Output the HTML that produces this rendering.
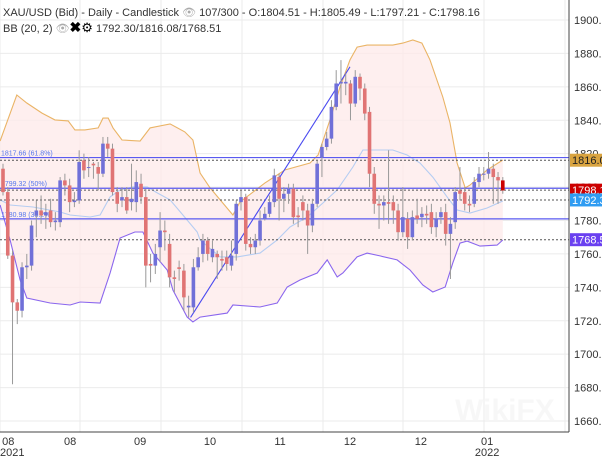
<!DOCTYPE html>
<html><head><meta charset="utf-8"><style>
html,body{margin:0;padding:0;background:#fff;width:602px;height:457px;overflow:hidden}
svg{display:block;font-family:"Liberation Sans",sans-serif}
</style></head><body>
<svg id="chart" width="602" height="457" viewBox="0 0 602 457" xmlns="http://www.w3.org/2000/svg">
<g id="grid"></g>
<g id="bands"></g>
<g id="levels"></g>
<g id="candles"></g>
<g id="axis"></g>
<g id="xaxis"></g>
<text x="3" y="16" font-size="11" fill="#333">XAU/USD (Bid) - Daily - Candlestick <tspan fill="#aaa">👁</tspan> 107/300 - O:1804.51 - H:1805.49 - L:1797.21 - C:1798.16</text>
<text x="3" y="32" font-size="11" fill="#333">BB (20, 2) <tspan fill="#aaa">👁</tspan><tspan font-weight="bold" font-size="14" fill="#000">✖</tspan><tspan font-size="13" fill="#000">⚙</tspan> 1792.30/1816.08/1768.51</text>
<text x="455" y="420" font-size="30" font-weight="bold" fill="#000" fill-opacity="0.03">WikiFX</text>
</svg>
<script>
const opens=[1811,1797,1759,1731,1726,1752,1753,1783,1786,1783,1786,1779,1779,1804,1801,1791,1792,1816,1812,1814,1812,1808,1826,1823,1797,1792,1794,1791,1791,1802,1794,1754,1753,1764,1774,1766,1746,1752,1750,1728,1728,1752,1760,1768,1758,1760,1757,1758,1753,1760,1791,1794,1766,1764,1768,1781,1784,1791,1806,1793,1796,1799,1783,1791,1786,1777,1790,1818,1824,1829,1848,1862,1862,1862,1850,1866,1859,1845,1808,1790,1789,1791,1791,1786,1773,1781,1770,1783,1782,1784,1785,1776,1782,1785,1772,1779,1798,1797,1790,1790,1803,1808,1808,1811,1806,1804];
const closes=[1797,1759,1731,1726,1752,1753,1777,1786,1783,1785,1779,1780,1804,1801,1791,1792,1815,1810,1812,1813,1808,1826,1823,1797,1790,1794,1786,1793,1803,1794,1753,1753,1760,1774,1773,1746,1745,1751,1734,1729,1752,1758,1768,1760,1763,1758,1756,1754,1759,1790,1794,1766,1764,1768,1780,1784,1791,1807,1793,1796,1799,1782,1782,1786,1777,1790,1814,1824,1829,1848,1862,1863,1863,1850,1866,1859,1844,1808,1790,1789,1791,1790,1786,1773,1782,1770,1782,1781,1784,1783,1776,1781,1785,1772,1778,1797,1796,1790,1789,1803,1808,1808,1811,1806,1804,1798];
const highs=[1814,1800,1762,1733,1755,1760,1780,1792,1795,1790,1793,1785,1806,1808,1805,1797,1822,1820,1818,1815,1815,1830,1830,1826,1800,1800,1800,1814,1810,1808,1799,1760,1766,1785,1780,1772,1750,1756,1754,1735,1757,1764,1772,1770,1768,1762,1762,1762,1768,1792,1798,1796,1770,1772,1786,1788,1795,1811,1808,1800,1802,1802,1788,1795,1790,1793,1816,1826,1833,1852,1870,1876,1868,1864,1870,1868,1862,1848,1812,1795,1795,1822,1795,1790,1800,1785,1786,1793,1788,1789,1790,1785,1788,1790,1782,1800,1812,1800,1795,1806,1812,1812,1821,1814,1809,1806];
const lows=[1795,1757,1682,1718,1722,1745,1750,1770,1778,1775,1776,1774,1776,1795,1785,1788,1790,1805,1806,1805,1798,1806,1818,1795,1785,1788,1784,1786,1785,1790,1740,1743,1748,1755,1762,1740,1737,1744,1726,1722,1725,1750,1755,1756,1755,1745,1750,1750,1750,1756,1786,1762,1760,1760,1765,1780,1782,1788,1780,1785,1790,1778,1776,1780,1760,1773,1788,1806,1822,1826,1846,1850,1855,1840,1848,1852,1840,1800,1784,1775,1780,1778,1778,1768,1770,1763,1768,1778,1776,1778,1772,1770,1778,1765,1745,1775,1792,1786,1785,1788,1800,1804,1805,1790,1790,1796];
const upperIdx=[-0.6,2.9,5,8.2,10.9,13.7,15.1,17.2,20,21,22.1,23.1,25,28.8,30.9,35.1,38.2,39.9,41.4,43.5,48.3,49.8,55,59.2,64.5,66.2,68.7,70.8,72.9,74.4,76.5,81.9,84,86.1,88,89.7,92.4,93.9,95.4,97.1,98.1,101.7,105];
const upperVals=[1827.6,1855.1,1850.3,1844.3,1840.2,1839.6,1834.2,1834.2,1835.4,1841.3,1841.3,1835.4,1828.2,1827.6,1835.4,1837.8,1833,1828.2,1808.4,1799.5,1783.3,1791.1,1802.4,1810.2,1814.4,1819.2,1840.2,1859.9,1876.1,1883.8,1885,1885,1886.2,1888,1886.2,1876.1,1853.9,1838.4,1814.4,1799.5,1801.2,1810.2,1816.2];
const midIdx=[-0.6,1.5,6.3,12,14.1,18.3,20.4,22.5,24.6,27.3,30.3,32.4,35.1,37.8,40.8,41.4,45.6,49.2,54,57.6,60.3,63.9,67.2,70.2,73.5,75.6,79.2,81.9,84.9,87.6,90.3,93.3,95.4,98.1,101.7,105];
const midVals=[1792.3,1789.3,1788.1,1785.1,1783.3,1782.1,1783.3,1794.1,1798.3,1800.1,1800.1,1796.5,1792.3,1783.3,1773.1,1768.3,1758.2,1758.2,1760.5,1768.3,1776.1,1782.1,1790.5,1798.3,1812,1822.2,1822.2,1822.2,1819.2,1814.4,1806,1794.1,1786.3,1784.5,1787.5,1791.7];
const lowerIdx=[-0.6,1.5,3.6,5,9.9,14.1,16.2,20.4,22.5,24.6,27.7,29.4,31.5,34.5,35.7,38.7,39.9,41.4,47.1,48.3,54,57.6,59.7,62.4,66,68.1,70.2,71.4,74.4,76.5,79.2,82.8,85.5,88.2,90.3,92.9,94.5,96,97.5,100.2,103.8,105];
const lowerVals=[1789.3,1768.3,1744.4,1733.6,1730.6,1729.4,1731.2,1730.6,1748.6,1769.5,1773.1,1773.1,1760.5,1750.4,1738.4,1722.2,1719.3,1722.2,1724.6,1729.4,1728.2,1730.6,1740.2,1744.4,1748.6,1756.4,1746.2,1748.6,1758.2,1760.5,1758.8,1756.4,1750.4,1741.4,1737.2,1740.2,1754.6,1766.5,1767.7,1764.7,1765.3,1768.3];
const fibLevels=[1817.66,1799.32,1780.98];
const fibLabels=["1817.66 (61.8%)","1799.32 (50%)","1780.98 (38.2%)"];
const dashLevels=[1816.08,1798.16,1792.30,1768.51];
const tagLevels=[1816.08,1798.16,1792.30,1768.51];
const tagColors=["#d9a441","#cc0000","#2f9cf2","#6a40f0"];
const priceTicks=[1660,1680,1700,1720,1740,1760,1780,1800,1820,1840,1860,1880,1900];
const monthIdx=[1.1,14.1,28.8,43.5,58.2,72.9,87.8,101.7];
const monthLabels=["08","08","09","10","11","12","12","01"];
const yearLabels=["2021","","","","","","","2022"];
const trendFrom=[39.4,1722];
const trendTo=[72.9,1872];

const NS="http://www.w3.org/2000/svg";
const PW=569,PH=432;
const y=p=>20+(1900-p)*(401/240);
const x=i=>3+i*4.76;
function mk(t,a,parent){const e=document.createElementNS(NS,t);for(const k in a)e.setAttribute(k,a[k]);parent.appendChild(e);return e;}
const grid=document.getElementById('grid');
priceTicks.forEach(p=>{const l=mk('line',{x1:0,x2:PW,y1:y(p),y2:y(p),stroke:'#ebebeb','stroke-width':1},grid);

});
[0,80,161,242,323,403,484,565].forEach(gx=>{const l=mk('line',{x1:gx,x2:gx,y1:0,y2:PH,stroke:'#ebebeb','stroke-width':1},grid);

});

const bands=document.getElementById('bands');
const pts=(ix,vs)=>ix.map((i,k)=>x(i).toFixed(1)+','+y(vs[k]).toFixed(1));
const up=pts(upperIdx,upperVals), lo=pts(lowerIdx,lowerVals).reverse();
const fill=mk('polygon',{points:up.concat(lo).join(' '),fill:'#fdeaea','fill-opacity':0.75},bands);


const bu=mk('polyline',{points:up.join(' '),fill:'none',stroke:'#eab466','stroke-width':1.1},bands);


const bm=mk('polyline',{points:pts(midIdx,midVals).join(' '),fill:'none',stroke:'#b5cdf2','stroke-width':1.1},bands);


const bl=mk('polyline',{points:pts(lowerIdx,lowerVals).join(' '),fill:'none',stroke:'#8a66ee','stroke-width':1.1},bands);



const lv=document.getElementById('levels');
dashLevels.forEach(p=>{const l=mk('line',{x1:0,x2:PW,y1:y(p),y2:y(p),stroke:'#555','stroke-width':1,'stroke-dasharray':'2,2'},lv);

});
fibLevels.forEach((p,k)=>{const l=mk('line',{x1:0,x2:PW,y1:y(p),y2:y(p),stroke:'#5a5af0','stroke-width':1.2},lv);


const t=mk('text',{x:1,y:y(p)-2,'font-size':7,fill:'#5577ee'},lv);t.textContent=fibLabels[k];

});
const tr=mk('line',{x1:x(trendFrom[0]),y1:y(trendFrom[1]),x2:x(trendTo[0]),y2:y(trendTo[1]),stroke:'#4a4af0','stroke-width':1.1},lv);



const cg=document.getElementById('candles');
opens.forEach((o,i)=>{const c=closes[i],bull=c>=o;const col=bull?'#7070d8':'#e07474';const wc='#999';
const cx=x(i);
const w=mk('line',{x1:cx,x2:cx,y1:y(highs[i]),y2:y(lows[i]),stroke:wc,'stroke-width':1},cg);


const t=y(Math.max(o,c)),b=y(Math.min(o,c));
const r=mk('rect',{x:cx-1.8,y:t,width:3.6,height:Math.max(1,b-t),fill:i==opens.length-1?'#cc0000':col},cg);

});

const ax=document.getElementById('axis');
const al=mk('line',{x1:PW,x2:PW,y1:0,y2:PH,stroke:'#444','stroke-width':1},ax);


const bl2=mk('line',{x1:0,x2:PW,y1:PH,y2:PH,stroke:'#444','stroke-width':1},ax);


priceTicks.forEach(p=>{const t=mk('text',{x:574,y:y(p)+4,'font-size':11,fill:'#333'},ax);t.textContent=p+'.';

});
tagLevels.forEach((p,k)=>{const r=mk('rect',{x:570,y:y(p)-6.5,width:32,height:13,fill:tagColors[k]},ax);


const t=mk('text',{x:572,y:y(p)+4,'font-size':11,fill:k==0?'#222':'#fff'},ax);t.textContent=p.toFixed(2);

});

const xa=document.getElementById('xaxis');
monthIdx.forEach((i,k)=>{const cx=x(i);
const t=mk('text',{x:cx,y:445,'font-size':11,fill:'#333','text-anchor':'middle'},xa);t.textContent=monthLabels[k];


if(yearLabels[k]){const t2=mk('text',{x:k==0?cx+4:cx,y:456,'font-size':11,fill:'#333','text-anchor':'middle'},xa);t2.textContent=yearLabels[k];

}});
</script>
</body></html>
